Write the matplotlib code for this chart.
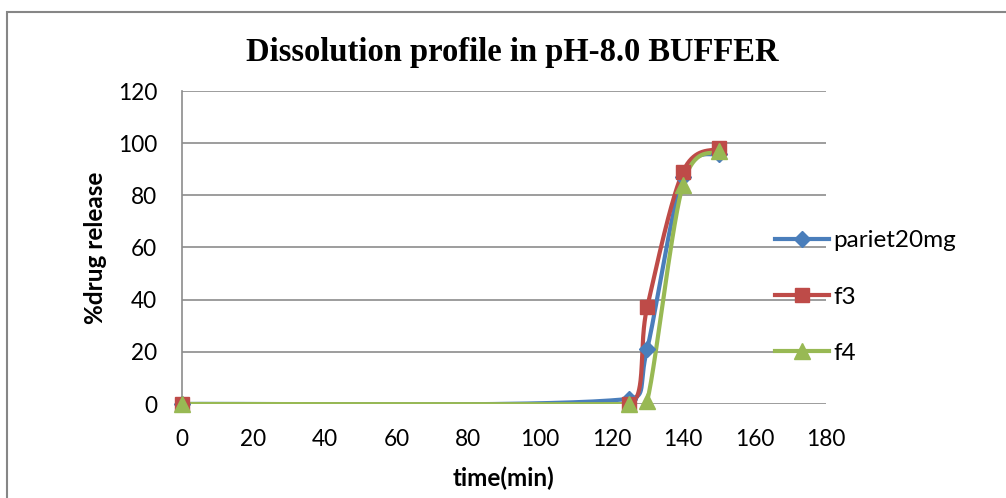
import matplotlib
matplotlib.use("Agg")
import matplotlib.pyplot as plt
import numpy as np
from matplotlib.lines import Line2D
from matplotlib.patches import Rectangle

# data
time_min = [0, 125, 130, 140, 150]
pariet20mg = [0, 2, 21, 87, 96]
f3 = [0, 0, 37, 89, 98]
f4 = [0, 0, 1, 84, 97]

series = [
    ("pariet20mg", pariet20mg, "#4A7EBB", "D", 8.5),
    ("f3", f3, "#BE4B48", "s", 10.5),
    ("f4", f4, "#98B954", "^", 11.5),
]

# pixel scale of the axes, used so smoothing behaves like it does on screen
SX = 644 / 180
SY = 313 / 120


def smooth(xs, ys, n=60):
    # Bezier smoothing (Catmull-Rom tangents), control points kept inside each segment in x
    px = np.asarray(xs, float) * SX
    py = np.asarray(ys, float) * SY
    m = len(px)
    tx = np.zeros(m)
    ty = np.zeros(m)
    for i in range(m):
        a = max(i - 1, 0)
        b = min(i + 1, m - 1)
        tx[i] = (px[b] - px[a]) / 6
        ty[i] = (py[b] - py[a]) / 6
    out_x, out_y = [], []
    t = np.linspace(0, 1, n)
    for i in range(m - 1):
        seg = px[i + 1] - px[i]
        s1 = min(1.0, seg / tx[i]) if tx[i] > seg else 1.0
        s2 = min(1.0, seg / tx[i + 1]) if tx[i + 1] > seg else 1.0
        c1x, c1y = px[i] + tx[i] * s1, py[i] + ty[i] * s1
        c2x, c2y = px[i + 1] - tx[i + 1] * s2, py[i + 1] - ty[i + 1] * s2
        bx = (1 - t) ** 3 * px[i] + 3 * (1 - t) ** 2 * t * c1x + 3 * (1 - t) * t ** 2 * c2x + t ** 3 * px[i + 1]
        by = (1 - t) ** 3 * py[i] + 3 * (1 - t) ** 2 * t * c1y + 3 * (1 - t) * t ** 2 * c2y + t ** 3 * py[i + 1]
        out_x.extend(bx)
        out_y.extend(by)
    return np.array(out_x) / SX, np.array(out_y) / SY


font = "Lato"

fig = plt.figure(figsize=(10.06, 4.98), dpi=100)
ax = fig.add_axes([182 / 1006, 1 - 404 / 498, 644 / 1006, 313 / 498])

# outer chart border (only top and left are visible in the reference crop)
fig.patches.append(Rectangle((7 / 1006, -0.1), 1.2, 1 - 12 / 498 + 0.1,
                             transform=fig.transFigure, fill=False,
                             edgecolor="#868686", linewidth=1.5))

handles = []
for name, vals, color, marker, ms in series:
    sx, sy = smooth(time_min, vals)
    # lines clipped at the plot area, markers allowed to sit over the axis edge
    ax.plot(sx, sy, color=color, linewidth=3, solid_capstyle="round", zorder=3)
    ax.plot(time_min, vals, linestyle="none", marker=marker, markersize=ms,
            color=color, zorder=4, clip_on=False)
    handles.append(Line2D([], [], color=color, linewidth=3, marker=marker,
                          markersize=ms, label=name))

ax.set_xlim(0, 180)
ax.set_ylim(0, 120)
ax.set_xticks(np.arange(0, 181, 20))
ax.set_yticks(np.arange(0, 121, 20))
ax.yaxis.grid(True, color="#8c8c8c", linewidth=1.2)
ax.set_axisbelow(True)
for side in ["top", "right", "bottom"]:
    ax.spines[side].set_visible(False)
ax.spines["left"].set_color("#8c8c8c")
ax.spines["left"].set_linewidth(1.2)
ax.tick_params(length=0, labelsize=16.3, pad=18)
for lab in ax.get_xticklabels() + ax.get_yticklabels():
    lab.set_fontfamily(font)

ax.set_xlabel("time(min)", fontsize=17.5, fontweight="bold", family=font, labelpad=12)
ax.set_ylabel("%drug release", fontsize=17.5, fontweight="bold", family=font, labelpad=8)

fig.text(512 / 1006, 1 - 52 / 498, "Dissolution profile in pH-8.0 BUFFER",
         ha="center", va="center", fontsize=23.5, fontweight="bold",
         family="Liberation Serif")

leg = ax.legend(handles=handles, loc="center left", bbox_to_anchor=((765 - 182) / 644, (404 - 297) / 313),
                frameon=False, fontsize=17.5, handlelength=2.25, handletextpad=0.15,
                labelspacing=1.45, borderaxespad=0)
for t in leg.get_texts():
    t.set_fontfamily(font)

fig.savefig("out.png", dpi=100)
